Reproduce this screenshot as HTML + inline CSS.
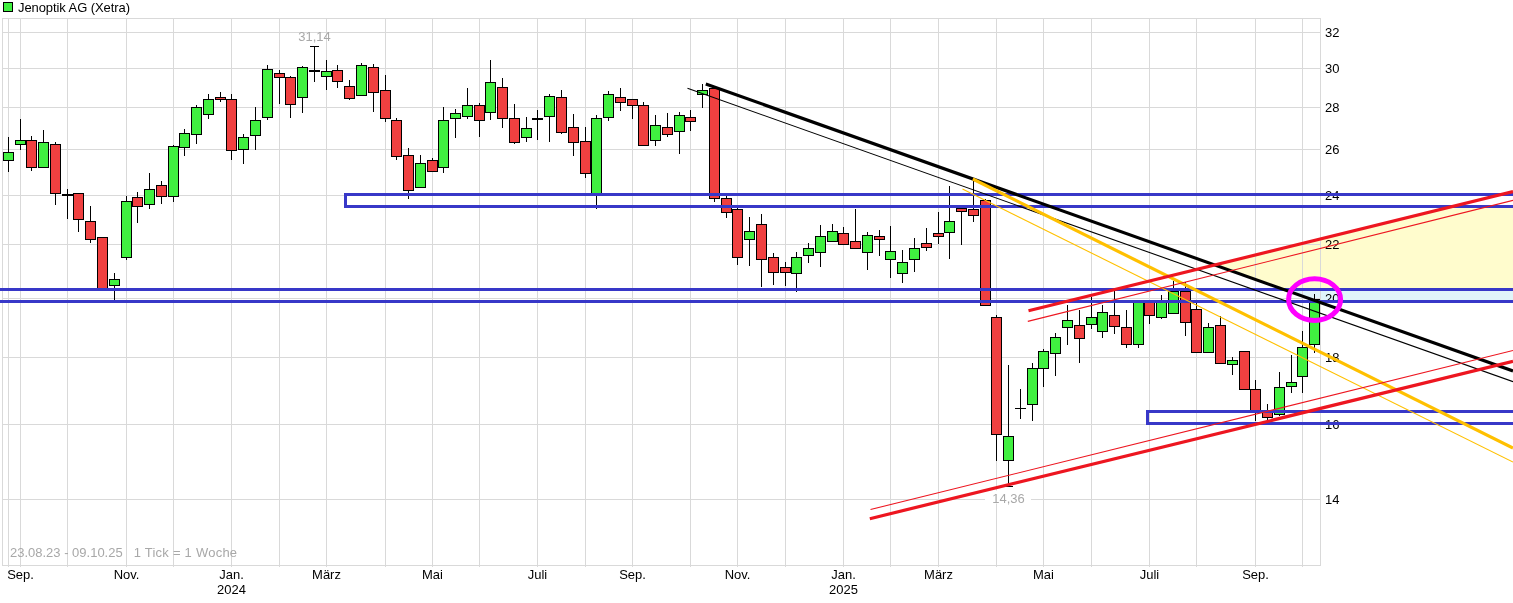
<!DOCTYPE html>
<html lang="de"><head><meta charset="utf-8"><title>Jenoptik AG (Xetra)</title>
<style>html,body{margin:0;padding:0;background:#fff}svg{display:block}</style></head>
<body><svg width="1513" height="603" viewBox="0 0 1513 603" font-family="Liberation Sans, Arial, sans-serif" font-size="13">
<rect width="1513" height="603" fill="#fff"/>
<polygon points="1214.8,265.0 1452.4,206.5 1513,206.5 1513,289.5 1283.8,289.5" fill="#fffccd"/>
<polygon points="1283.8,289.5 1513,289.5 1513,301.5 1317.5,301.5" fill="#e1f5fa"/>
<g shape-rendering="crispEdges" stroke="#d9d9d9" stroke-width="1" fill="none">
<line x1="2" y1="32.5" x2="1321" y2="32.5"/>
<line x1="2" y1="68.5" x2="1321" y2="68.5"/>
<line x1="2" y1="107.5" x2="1321" y2="107.5"/>
<line x1="2" y1="149.5" x2="1321" y2="149.5"/>
<line x1="2" y1="195.5" x2="1321" y2="195.5"/>
<line x1="2" y1="244.5" x2="1321" y2="244.5"/>
<line x1="2" y1="298.5" x2="1321" y2="298.5"/>
<line x1="2" y1="357.5" x2="1321" y2="357.5"/>
<line x1="2" y1="424.5" x2="1321" y2="424.5"/>
<line x1="2" y1="499.5" x2="1321" y2="499.5"/>
<line x1="8.5" y1="18" x2="8.5" y2="567"/>
<line x1="20.5" y1="18" x2="20.5" y2="567"/>
<line x1="67.5" y1="18" x2="67.5" y2="567"/>
<line x1="126.5" y1="18" x2="126.5" y2="567"/>
<line x1="173.5" y1="18" x2="173.5" y2="567"/>
<line x1="231.5" y1="18" x2="231.5" y2="567"/>
<line x1="279.5" y1="18" x2="279.5" y2="567"/>
<line x1="326.5" y1="18" x2="326.5" y2="567"/>
<line x1="385.5" y1="18" x2="385.5" y2="567"/>
<line x1="432.5" y1="18" x2="432.5" y2="567"/>
<line x1="479.5" y1="18" x2="479.5" y2="567"/>
<line x1="537.5" y1="18" x2="537.5" y2="567"/>
<line x1="585.5" y1="18" x2="585.5" y2="567"/>
<line x1="632.5" y1="18" x2="632.5" y2="567"/>
<line x1="690.5" y1="18" x2="690.5" y2="567"/>
<line x1="737.5" y1="18" x2="737.5" y2="567"/>
<line x1="785.5" y1="18" x2="785.5" y2="567"/>
<line x1="843.5" y1="18" x2="843.5" y2="567"/>
<line x1="890.5" y1="18" x2="890.5" y2="567"/>
<line x1="938.5" y1="18" x2="938.5" y2="567"/>
<line x1="996.5" y1="18" x2="996.5" y2="567"/>
<line x1="1043.5" y1="18" x2="1043.5" y2="567"/>
<line x1="1091.5" y1="18" x2="1091.5" y2="567"/>
<line x1="1149.5" y1="18" x2="1149.5" y2="567"/>
<line x1="1196.5" y1="18" x2="1196.5" y2="567"/>
<line x1="1255.5" y1="18" x2="1255.5" y2="567"/>
<line x1="1302.5" y1="18" x2="1302.5" y2="567"/>
<rect x="2.5" y="18.5" width="1318" height="547"/>
</g>
<text transform="translate(1325,37.2) scale(1,1.03)" text-anchor="start" fill="#000" >32</text>
<text transform="translate(1325,73.2) scale(1,1.03)" text-anchor="start" fill="#000" >30</text>
<text transform="translate(1325,112.2) scale(1,1.03)" text-anchor="start" fill="#000" >28</text>
<text transform="translate(1325,154.2) scale(1,1.03)" text-anchor="start" fill="#000" >26</text>
<text transform="translate(1325,200.2) scale(1,1.03)" text-anchor="start" fill="#000" >24</text>
<text transform="translate(1325,249.2) scale(1,1.03)" text-anchor="start" fill="#000" >22</text>
<text transform="translate(1325,303.2) scale(1,1.03)" text-anchor="start" fill="#000" >20</text>
<text transform="translate(1325,362.2) scale(1,1.03)" text-anchor="start" fill="#000" >18</text>
<text transform="translate(1325,429.2) scale(1,1.03)" text-anchor="start" fill="#000" >16</text>
<text transform="translate(1325,504.2) scale(1,1.03)" text-anchor="start" fill="#000" >14</text>
<text transform="translate(20.5,579) scale(1,1.03)" text-anchor="middle" fill="#000" >Sep.</text>
<text transform="translate(126.5,579) scale(1,1.03)" text-anchor="middle" fill="#000" >Nov.</text>
<text transform="translate(231.5,579) scale(1,1.03)" text-anchor="middle" fill="#000" >Jan.</text>
<text transform="translate(326.5,579) scale(1,1.03)" text-anchor="middle" fill="#000" >März</text>
<text transform="translate(432.5,579) scale(1,1.03)" text-anchor="middle" fill="#000" >Mai</text>
<text transform="translate(537.5,579) scale(1,1.03)" text-anchor="middle" fill="#000" >Juli</text>
<text transform="translate(632.5,579) scale(1,1.03)" text-anchor="middle" fill="#000" >Sep.</text>
<text transform="translate(737.5,579) scale(1,1.03)" text-anchor="middle" fill="#000" >Nov.</text>
<text transform="translate(843.5,579) scale(1,1.03)" text-anchor="middle" fill="#000" >Jan.</text>
<text transform="translate(938.5,579) scale(1,1.03)" text-anchor="middle" fill="#000" >März</text>
<text transform="translate(1043.5,579) scale(1,1.03)" text-anchor="middle" fill="#000" >Mai</text>
<text transform="translate(1149.5,579) scale(1,1.03)" text-anchor="middle" fill="#000" >Juli</text>
<text transform="translate(1255.5,579) scale(1,1.03)" text-anchor="middle" fill="#000" >Sep.</text>
<text transform="translate(231.5,594) scale(1,1.03)" text-anchor="middle" fill="#000" >2024</text>
<text transform="translate(843.5,594) scale(1,1.03)" text-anchor="middle" fill="#000" >2025</text>
<text transform="translate(10,557) scale(1,1.03)" text-anchor="start" fill="#a8a8a8" >23.08.23 - 09.10.25</text>
<text transform="translate(133.7,557) scale(1,1.03)" text-anchor="start" fill="#a8a8a8" textLength="103.4" lengthAdjust="spacing">1 Tick = 1 Woche</text>
<rect x="3.5" y="2.5" width="9" height="9" fill="#40f040" stroke="#000" shape-rendering="crispEdges"/>
<text transform="translate(18,12) scale(1,1.03)" text-anchor="start" fill="#000" textLength="112" lengthAdjust="spacing">Jenoptik AG (Xetra)</text>
<text transform="translate(314.5,41) scale(1,1.03)" text-anchor="middle" fill="#a8a8a8" >31,14</text>
<rect x="985" y="490.5" width="46" height="13" fill="#fff"/>
<text transform="translate(1008.5,503) scale(1,1.03)" text-anchor="middle" fill="#a8a8a8" >14,36</text>
<g shape-rendering="crispEdges">
<rect x="8.0" y="137" width="1" height="35" fill="#000"/>
<rect x="3.0" y="152" width="11" height="9" fill="#000"/>
<rect x="4.0" y="153" width="9" height="7" fill="#40f040"/>
<rect x="20.0" y="119" width="1" height="31" fill="#000"/>
<rect x="15.0" y="140" width="11" height="5" fill="#000"/>
<rect x="16.0" y="141" width="9" height="3" fill="#40f040"/>
<rect x="31.0" y="136" width="1" height="35" fill="#000"/>
<rect x="26.0" y="140" width="11" height="28" fill="#000"/>
<rect x="27.0" y="141" width="9" height="26" fill="#f04040"/>
<rect x="43.0" y="130" width="1" height="38" fill="#000"/>
<rect x="38.0" y="142" width="11" height="26" fill="#000"/>
<rect x="39.0" y="143" width="9" height="24" fill="#40f040"/>
<rect x="55.0" y="142" width="1" height="63" fill="#000"/>
<rect x="50.0" y="144" width="11" height="50" fill="#000"/>
<rect x="51.0" y="145" width="9" height="48" fill="#f04040"/>
<rect x="67.0" y="189" width="1" height="30" fill="#000"/>
<rect x="62.0" y="194" width="11" height="2" fill="#000"/>
<rect x="78.0" y="193" width="1" height="39" fill="#000"/>
<rect x="73.0" y="193" width="11" height="27" fill="#000"/>
<rect x="74.0" y="194" width="9" height="25" fill="#f04040"/>
<rect x="90.0" y="206" width="1" height="37" fill="#000"/>
<rect x="85.0" y="221" width="11" height="19" fill="#000"/>
<rect x="86.0" y="222" width="9" height="17" fill="#f04040"/>
<rect x="102.0" y="237" width="1" height="53" fill="#000"/>
<rect x="97.0" y="237" width="11" height="53" fill="#000"/>
<rect x="98.0" y="238" width="9" height="51" fill="#f04040"/>
<rect x="114.0" y="273" width="1" height="27" fill="#000"/>
<rect x="109.0" y="279" width="11" height="7" fill="#000"/>
<rect x="110.0" y="280" width="9" height="5" fill="#40f040"/>
<rect x="126.0" y="196" width="1" height="64" fill="#000"/>
<rect x="121.0" y="201" width="11" height="57" fill="#000"/>
<rect x="122.0" y="202" width="9" height="55" fill="#40f040"/>
<rect x="137.0" y="192" width="1" height="31" fill="#000"/>
<rect x="132.0" y="197" width="11" height="10" fill="#000"/>
<rect x="133.0" y="198" width="9" height="8" fill="#f04040"/>
<rect x="149.0" y="173" width="1" height="36" fill="#000"/>
<rect x="144.0" y="189" width="11" height="16" fill="#000"/>
<rect x="145.0" y="190" width="9" height="14" fill="#40f040"/>
<rect x="161.0" y="181" width="1" height="23" fill="#000"/>
<rect x="156.0" y="185" width="11" height="12" fill="#000"/>
<rect x="157.0" y="186" width="9" height="10" fill="#f04040"/>
<rect x="173.0" y="145" width="1" height="57" fill="#000"/>
<rect x="168.0" y="146" width="11" height="51" fill="#000"/>
<rect x="169.0" y="147" width="9" height="49" fill="#40f040"/>
<rect x="184.0" y="129" width="1" height="27" fill="#000"/>
<rect x="179.0" y="133" width="11" height="15" fill="#000"/>
<rect x="180.0" y="134" width="9" height="13" fill="#40f040"/>
<rect x="196.0" y="105" width="1" height="39" fill="#000"/>
<rect x="191.0" y="107" width="11" height="28" fill="#000"/>
<rect x="192.0" y="108" width="9" height="26" fill="#40f040"/>
<rect x="208.0" y="94" width="1" height="25" fill="#000"/>
<rect x="203.0" y="99" width="11" height="16" fill="#000"/>
<rect x="204.0" y="100" width="9" height="14" fill="#40f040"/>
<rect x="220.0" y="92" width="1" height="10" fill="#000"/>
<rect x="215.0" y="97" width="11" height="3" fill="#000"/>
<rect x="216.0" y="98" width="9" height="1" fill="#f04040"/>
<rect x="231.0" y="94" width="1" height="66" fill="#000"/>
<rect x="226.0" y="99" width="11" height="52" fill="#000"/>
<rect x="227.0" y="100" width="9" height="50" fill="#f04040"/>
<rect x="243.0" y="134" width="1" height="30" fill="#000"/>
<rect x="238.0" y="137" width="11" height="13" fill="#000"/>
<rect x="239.0" y="138" width="9" height="11" fill="#40f040"/>
<rect x="255.0" y="107" width="1" height="43" fill="#000"/>
<rect x="250.0" y="120" width="11" height="16" fill="#000"/>
<rect x="251.0" y="121" width="9" height="14" fill="#40f040"/>
<rect x="267.0" y="65" width="1" height="55" fill="#000"/>
<rect x="262.0" y="69" width="11" height="49" fill="#000"/>
<rect x="263.0" y="70" width="9" height="47" fill="#40f040"/>
<rect x="279.0" y="70" width="1" height="34" fill="#000"/>
<rect x="274.0" y="73" width="11" height="5" fill="#000"/>
<rect x="275.0" y="74" width="9" height="3" fill="#f04040"/>
<rect x="290.0" y="76" width="1" height="42" fill="#000"/>
<rect x="285.0" y="77" width="11" height="28" fill="#000"/>
<rect x="286.0" y="78" width="9" height="26" fill="#f04040"/>
<rect x="302.0" y="66" width="1" height="47" fill="#000"/>
<rect x="297.0" y="67" width="11" height="31" fill="#000"/>
<rect x="298.0" y="68" width="9" height="29" fill="#40f040"/>
<rect x="314.0" y="46" width="1" height="36" fill="#000"/>
<rect x="309.0" y="70" width="11" height="2" fill="#000"/>
<rect x="326.0" y="60" width="1" height="30" fill="#000"/>
<rect x="321.0" y="71" width="11" height="6" fill="#000"/>
<rect x="322.0" y="72" width="9" height="4" fill="#40f040"/>
<rect x="337.0" y="65" width="1" height="23" fill="#000"/>
<rect x="332.0" y="70" width="11" height="12" fill="#000"/>
<rect x="333.0" y="71" width="9" height="10" fill="#f04040"/>
<rect x="349.0" y="80" width="1" height="20" fill="#000"/>
<rect x="344.0" y="86" width="11" height="13" fill="#000"/>
<rect x="345.0" y="87" width="9" height="11" fill="#f04040"/>
<rect x="361.0" y="63" width="1" height="32" fill="#000"/>
<rect x="356.0" y="65" width="11" height="31" fill="#000"/>
<rect x="357.0" y="66" width="9" height="29" fill="#40f040"/>
<rect x="373.0" y="64" width="1" height="48" fill="#000"/>
<rect x="368.0" y="67" width="11" height="26" fill="#000"/>
<rect x="369.0" y="68" width="9" height="24" fill="#f04040"/>
<rect x="385.0" y="75" width="1" height="47" fill="#000"/>
<rect x="380.0" y="90" width="11" height="29" fill="#000"/>
<rect x="381.0" y="91" width="9" height="27" fill="#f04040"/>
<rect x="396.0" y="118" width="1" height="42" fill="#000"/>
<rect x="391.0" y="120" width="11" height="37" fill="#000"/>
<rect x="392.0" y="121" width="9" height="35" fill="#f04040"/>
<rect x="408.0" y="148" width="1" height="51" fill="#000"/>
<rect x="403.0" y="155" width="11" height="36" fill="#000"/>
<rect x="404.0" y="156" width="9" height="34" fill="#f04040"/>
<rect x="420.0" y="155" width="1" height="32" fill="#000"/>
<rect x="415.0" y="163" width="11" height="25" fill="#000"/>
<rect x="416.0" y="164" width="9" height="23" fill="#40f040"/>
<rect x="432.0" y="158" width="1" height="13" fill="#000"/>
<rect x="427.0" y="160" width="11" height="12" fill="#000"/>
<rect x="428.0" y="161" width="9" height="10" fill="#f04040"/>
<rect x="443.0" y="107" width="1" height="66" fill="#000"/>
<rect x="438.0" y="120" width="11" height="48" fill="#000"/>
<rect x="439.0" y="121" width="9" height="46" fill="#40f040"/>
<rect x="455.0" y="109" width="1" height="29" fill="#000"/>
<rect x="450.0" y="113" width="11" height="6" fill="#000"/>
<rect x="451.0" y="114" width="9" height="4" fill="#40f040"/>
<rect x="467.0" y="88" width="1" height="31" fill="#000"/>
<rect x="462.0" y="105" width="11" height="12" fill="#000"/>
<rect x="463.0" y="106" width="9" height="10" fill="#40f040"/>
<rect x="479.0" y="103" width="1" height="34" fill="#000"/>
<rect x="474.0" y="105" width="11" height="16" fill="#000"/>
<rect x="475.0" y="106" width="9" height="14" fill="#f04040"/>
<rect x="490.0" y="60" width="1" height="60" fill="#000"/>
<rect x="485.0" y="82" width="11" height="31" fill="#000"/>
<rect x="486.0" y="83" width="9" height="29" fill="#40f040"/>
<rect x="502.0" y="78" width="1" height="50" fill="#000"/>
<rect x="497.0" y="87" width="11" height="32" fill="#000"/>
<rect x="498.0" y="88" width="9" height="30" fill="#f04040"/>
<rect x="514.0" y="104" width="1" height="40" fill="#000"/>
<rect x="509.0" y="118" width="11" height="25" fill="#000"/>
<rect x="510.0" y="119" width="9" height="23" fill="#f04040"/>
<rect x="526.0" y="117" width="1" height="25" fill="#000"/>
<rect x="521.0" y="128" width="11" height="10" fill="#000"/>
<rect x="522.0" y="129" width="9" height="8" fill="#40f040"/>
<rect x="537.0" y="110" width="1" height="30" fill="#000"/>
<rect x="532.0" y="118" width="11" height="2" fill="#000"/>
<rect x="549.0" y="94" width="1" height="48" fill="#000"/>
<rect x="544.0" y="96" width="11" height="21" fill="#000"/>
<rect x="545.0" y="97" width="9" height="19" fill="#40f040"/>
<rect x="561.0" y="90" width="1" height="44" fill="#000"/>
<rect x="556.0" y="97" width="11" height="36" fill="#000"/>
<rect x="557.0" y="98" width="9" height="34" fill="#f04040"/>
<rect x="573.0" y="114" width="1" height="42" fill="#000"/>
<rect x="568.0" y="127" width="11" height="16" fill="#000"/>
<rect x="569.0" y="128" width="9" height="14" fill="#f04040"/>
<rect x="585.0" y="127" width="1" height="51" fill="#000"/>
<rect x="580.0" y="141" width="11" height="33" fill="#000"/>
<rect x="581.0" y="142" width="9" height="31" fill="#f04040"/>
<rect x="596.0" y="115" width="1" height="94" fill="#000"/>
<rect x="591.0" y="118" width="11" height="77" fill="#000"/>
<rect x="592.0" y="119" width="9" height="75" fill="#40f040"/>
<rect x="608.0" y="91" width="1" height="30" fill="#000"/>
<rect x="603.0" y="94" width="11" height="24" fill="#000"/>
<rect x="604.0" y="95" width="9" height="22" fill="#40f040"/>
<rect x="620.0" y="88" width="1" height="23" fill="#000"/>
<rect x="615.0" y="97" width="11" height="6" fill="#000"/>
<rect x="616.0" y="98" width="9" height="4" fill="#f04040"/>
<rect x="632.0" y="99" width="1" height="20" fill="#000"/>
<rect x="627.0" y="99" width="11" height="7" fill="#000"/>
<rect x="628.0" y="100" width="9" height="5" fill="#f04040"/>
<rect x="643.0" y="102" width="1" height="44" fill="#000"/>
<rect x="638.0" y="105" width="11" height="41" fill="#000"/>
<rect x="639.0" y="106" width="9" height="39" fill="#f04040"/>
<rect x="655.0" y="115" width="1" height="31" fill="#000"/>
<rect x="650.0" y="125" width="11" height="16" fill="#000"/>
<rect x="651.0" y="126" width="9" height="14" fill="#40f040"/>
<rect x="667.0" y="113" width="1" height="24" fill="#000"/>
<rect x="662.0" y="127" width="11" height="8" fill="#000"/>
<rect x="663.0" y="128" width="9" height="6" fill="#f04040"/>
<rect x="679.0" y="112" width="1" height="42" fill="#000"/>
<rect x="674.0" y="115" width="11" height="17" fill="#000"/>
<rect x="675.0" y="116" width="9" height="15" fill="#40f040"/>
<rect x="690.0" y="110" width="1" height="21" fill="#000"/>
<rect x="685.0" y="117" width="11" height="5" fill="#000"/>
<rect x="686.0" y="118" width="9" height="3" fill="#f04040"/>
<rect x="702.0" y="84" width="1" height="24" fill="#000"/>
<rect x="697.0" y="90" width="11" height="5" fill="#000"/>
<rect x="698.0" y="91" width="9" height="3" fill="#40f040"/>
<rect x="714.0" y="88" width="1" height="114" fill="#000"/>
<rect x="709.0" y="88" width="11" height="111" fill="#000"/>
<rect x="710.0" y="89" width="9" height="109" fill="#f04040"/>
<rect x="726.0" y="196" width="1" height="22" fill="#000"/>
<rect x="721.0" y="198" width="11" height="15" fill="#000"/>
<rect x="722.0" y="199" width="9" height="13" fill="#f04040"/>
<rect x="737.0" y="208" width="1" height="57" fill="#000"/>
<rect x="732.0" y="209" width="11" height="49" fill="#000"/>
<rect x="733.0" y="210" width="9" height="47" fill="#f04040"/>
<rect x="749.0" y="217" width="1" height="49" fill="#000"/>
<rect x="744.0" y="231" width="11" height="9" fill="#000"/>
<rect x="745.0" y="232" width="9" height="7" fill="#40f040"/>
<rect x="761.0" y="214" width="1" height="73" fill="#000"/>
<rect x="756.0" y="224" width="11" height="36" fill="#000"/>
<rect x="757.0" y="225" width="9" height="34" fill="#f04040"/>
<rect x="773.0" y="253" width="1" height="32" fill="#000"/>
<rect x="768.0" y="257" width="11" height="16" fill="#000"/>
<rect x="769.0" y="258" width="9" height="14" fill="#f04040"/>
<rect x="785.0" y="262" width="1" height="24" fill="#000"/>
<rect x="780.0" y="267" width="11" height="6" fill="#000"/>
<rect x="781.0" y="268" width="9" height="4" fill="#f04040"/>
<rect x="796.0" y="252" width="1" height="40" fill="#000"/>
<rect x="791.0" y="257" width="11" height="17" fill="#000"/>
<rect x="792.0" y="258" width="9" height="15" fill="#40f040"/>
<rect x="808.0" y="243" width="1" height="20" fill="#000"/>
<rect x="803.0" y="248" width="11" height="8" fill="#000"/>
<rect x="804.0" y="249" width="9" height="6" fill="#40f040"/>
<rect x="820.0" y="225" width="1" height="42" fill="#000"/>
<rect x="815.0" y="236" width="11" height="17" fill="#000"/>
<rect x="816.0" y="237" width="9" height="15" fill="#40f040"/>
<rect x="832.0" y="224" width="1" height="17" fill="#000"/>
<rect x="827.0" y="231" width="11" height="11" fill="#000"/>
<rect x="828.0" y="232" width="9" height="9" fill="#40f040"/>
<rect x="843.0" y="227" width="1" height="18" fill="#000"/>
<rect x="838.0" y="233" width="11" height="12" fill="#000"/>
<rect x="839.0" y="234" width="9" height="10" fill="#f04040"/>
<rect x="855.0" y="209" width="1" height="39" fill="#000"/>
<rect x="850.0" y="241" width="11" height="8" fill="#000"/>
<rect x="851.0" y="242" width="9" height="6" fill="#f04040"/>
<rect x="867.0" y="232" width="1" height="38" fill="#000"/>
<rect x="862.0" y="235" width="11" height="18" fill="#000"/>
<rect x="863.0" y="236" width="9" height="16" fill="#40f040"/>
<rect x="879.0" y="230" width="1" height="26" fill="#000"/>
<rect x="874.0" y="236" width="11" height="4" fill="#000"/>
<rect x="875.0" y="237" width="9" height="2" fill="#f04040"/>
<rect x="890.0" y="226" width="1" height="52" fill="#000"/>
<rect x="885.0" y="251" width="11" height="9" fill="#000"/>
<rect x="886.0" y="252" width="9" height="7" fill="#40f040"/>
<rect x="902.0" y="250" width="1" height="33" fill="#000"/>
<rect x="897.0" y="262" width="11" height="12" fill="#000"/>
<rect x="898.0" y="263" width="9" height="10" fill="#40f040"/>
<rect x="914.0" y="238" width="1" height="34" fill="#000"/>
<rect x="909.0" y="248" width="11" height="12" fill="#000"/>
<rect x="910.0" y="249" width="9" height="10" fill="#40f040"/>
<rect x="926.0" y="228" width="1" height="23" fill="#000"/>
<rect x="921.0" y="243" width="11" height="5" fill="#000"/>
<rect x="922.0" y="244" width="9" height="3" fill="#f04040"/>
<rect x="938.0" y="212" width="1" height="32" fill="#000"/>
<rect x="933.0" y="233" width="11" height="4" fill="#000"/>
<rect x="934.0" y="234" width="9" height="2" fill="#f04040"/>
<rect x="949.0" y="186" width="1" height="73" fill="#000"/>
<rect x="944.0" y="221" width="11" height="12" fill="#000"/>
<rect x="945.0" y="222" width="9" height="10" fill="#40f040"/>
<rect x="961.0" y="208" width="1" height="37" fill="#000"/>
<rect x="956.0" y="208" width="11" height="4" fill="#000"/>
<rect x="957.0" y="209" width="9" height="2" fill="#f04040"/>
<rect x="973.0" y="180" width="1" height="42" fill="#000"/>
<rect x="968.0" y="209" width="11" height="7" fill="#000"/>
<rect x="969.0" y="210" width="9" height="5" fill="#f04040"/>
<rect x="985.0" y="199" width="1" height="106" fill="#000"/>
<rect x="980.0" y="200" width="11" height="106" fill="#000"/>
<rect x="981.0" y="201" width="9" height="104" fill="#f04040"/>
<rect x="996.0" y="315" width="1" height="146" fill="#000"/>
<rect x="991.0" y="317" width="11" height="118" fill="#000"/>
<rect x="992.0" y="318" width="9" height="116" fill="#f04040"/>
<rect x="1008.0" y="365" width="1" height="121" fill="#000"/>
<rect x="1003.0" y="436" width="11" height="25" fill="#000"/>
<rect x="1004.0" y="437" width="9" height="23" fill="#40f040"/>
<rect x="1020.0" y="389" width="1" height="30" fill="#000"/>
<rect x="1015.0" y="408" width="11" height="1" fill="#000"/>
<rect x="1032.0" y="363" width="1" height="58" fill="#000"/>
<rect x="1027.0" y="368" width="11" height="37" fill="#000"/>
<rect x="1028.0" y="369" width="9" height="35" fill="#40f040"/>
<rect x="1043.0" y="349" width="1" height="38" fill="#000"/>
<rect x="1038.0" y="351" width="11" height="18" fill="#000"/>
<rect x="1039.0" y="352" width="9" height="16" fill="#40f040"/>
<rect x="1055.0" y="333" width="1" height="43" fill="#000"/>
<rect x="1050.0" y="337" width="11" height="17" fill="#000"/>
<rect x="1051.0" y="338" width="9" height="15" fill="#40f040"/>
<rect x="1067.0" y="305" width="1" height="40" fill="#000"/>
<rect x="1062.0" y="320" width="11" height="8" fill="#000"/>
<rect x="1063.0" y="321" width="9" height="6" fill="#40f040"/>
<rect x="1079.0" y="310" width="1" height="53" fill="#000"/>
<rect x="1074.0" y="325" width="11" height="14" fill="#000"/>
<rect x="1075.0" y="326" width="9" height="12" fill="#f04040"/>
<rect x="1091.0" y="297" width="1" height="32" fill="#000"/>
<rect x="1086.0" y="317" width="11" height="8" fill="#000"/>
<rect x="1087.0" y="318" width="9" height="6" fill="#40f040"/>
<rect x="1102.0" y="305" width="1" height="33" fill="#000"/>
<rect x="1097.0" y="312" width="11" height="20" fill="#000"/>
<rect x="1098.0" y="313" width="9" height="18" fill="#40f040"/>
<rect x="1114.0" y="291" width="1" height="43" fill="#000"/>
<rect x="1109.0" y="315" width="11" height="12" fill="#000"/>
<rect x="1110.0" y="316" width="9" height="10" fill="#f04040"/>
<rect x="1126.0" y="310" width="1" height="38" fill="#000"/>
<rect x="1121.0" y="327" width="11" height="18" fill="#000"/>
<rect x="1122.0" y="328" width="9" height="16" fill="#f04040"/>
<rect x="1138.0" y="302" width="1" height="46" fill="#000"/>
<rect x="1133.0" y="302" width="11" height="43" fill="#000"/>
<rect x="1134.0" y="303" width="9" height="41" fill="#40f040"/>
<rect x="1149.0" y="302" width="1" height="22" fill="#000"/>
<rect x="1144.0" y="302" width="11" height="14" fill="#000"/>
<rect x="1145.0" y="303" width="9" height="12" fill="#f04040"/>
<rect x="1161.0" y="295" width="1" height="24" fill="#000"/>
<rect x="1156.0" y="302" width="11" height="16" fill="#000"/>
<rect x="1157.0" y="303" width="9" height="14" fill="#40f040"/>
<rect x="1173.0" y="281" width="1" height="32" fill="#000"/>
<rect x="1168.0" y="291" width="11" height="23" fill="#000"/>
<rect x="1169.0" y="292" width="9" height="21" fill="#40f040"/>
<rect x="1185.0" y="282" width="1" height="54" fill="#000"/>
<rect x="1180.0" y="291" width="11" height="32" fill="#000"/>
<rect x="1181.0" y="292" width="9" height="30" fill="#f04040"/>
<rect x="1196.0" y="303" width="1" height="49" fill="#000"/>
<rect x="1191.0" y="309" width="11" height="44" fill="#000"/>
<rect x="1192.0" y="310" width="9" height="42" fill="#f04040"/>
<rect x="1208.0" y="323" width="1" height="29" fill="#000"/>
<rect x="1203.0" y="327" width="11" height="26" fill="#000"/>
<rect x="1204.0" y="328" width="9" height="24" fill="#40f040"/>
<rect x="1220.0" y="316" width="1" height="47" fill="#000"/>
<rect x="1215.0" y="325" width="11" height="39" fill="#000"/>
<rect x="1216.0" y="326" width="9" height="37" fill="#f04040"/>
<rect x="1232.0" y="357" width="1" height="18" fill="#000"/>
<rect x="1227.0" y="360" width="11" height="5" fill="#000"/>
<rect x="1228.0" y="361" width="9" height="3" fill="#40f040"/>
<rect x="1244.0" y="351" width="1" height="38" fill="#000"/>
<rect x="1239.0" y="351" width="11" height="39" fill="#000"/>
<rect x="1240.0" y="352" width="9" height="37" fill="#f04040"/>
<rect x="1255.0" y="380" width="1" height="41" fill="#000"/>
<rect x="1250.0" y="389" width="11" height="23" fill="#000"/>
<rect x="1251.0" y="390" width="9" height="21" fill="#f04040"/>
<rect x="1267.0" y="404" width="1" height="16" fill="#000"/>
<rect x="1262.0" y="410" width="11" height="8" fill="#000"/>
<rect x="1263.0" y="411" width="9" height="6" fill="#f04040"/>
<rect x="1279.0" y="372" width="1" height="44" fill="#000"/>
<rect x="1274.0" y="387" width="11" height="28" fill="#000"/>
<rect x="1275.0" y="388" width="9" height="26" fill="#40f040"/>
<rect x="1291.0" y="355" width="1" height="38" fill="#000"/>
<rect x="1286.0" y="382" width="11" height="5" fill="#000"/>
<rect x="1287.0" y="383" width="9" height="3" fill="#40f040"/>
<rect x="1302.0" y="331" width="1" height="62" fill="#000"/>
<rect x="1297.0" y="347" width="11" height="30" fill="#000"/>
<rect x="1298.0" y="348" width="9" height="28" fill="#40f040"/>
<rect x="1314.0" y="294" width="1" height="59" fill="#000"/>
<rect x="1309.0" y="299" width="11" height="46" fill="#000"/>
<rect x="1310.0" y="300" width="9" height="44" fill="#40f040"/>
<rect x="310.0" y="46" width="9" height="1" fill="#000"/>
<rect x="1004.0" y="486" width="9" height="1" fill="#000"/>
</g>
<g fill="none" stroke="#3838c8" stroke-width="3">
<path d="M1530,194.5H345.5V206.5H1530"/>
<path d="M-10,289.5H1530M-10,301.5H1530"/>
<path d="M1530,411.5H1147.5V423.5H1530"/>
</g>
<line x1="687.5" y1="88.3" x2="1513" y2="381.7" stroke="#000" stroke-width="1.1"/>
<line x1="705.8" y1="84" x2="1513" y2="371" stroke="#000" stroke-width="3.1"/>
<line x1="962.5" y1="189.1" x2="1513" y2="462" stroke="#ffc000" stroke-width="1.1"/>
<line x1="972.8" y1="179" x2="1513" y2="448.1" stroke="#ffc000" stroke-width="3.2"/>
<line x1="1027.8" y1="321.4" x2="1513" y2="200.4" stroke="#ed1620" stroke-width="1.1"/>
<line x1="1028.5" y1="310.8" x2="1513" y2="191.6" stroke="#ed1620" stroke-width="3.2"/>
<line x1="870.5" y1="509.5" x2="1513" y2="350.5" stroke="#ed1620" stroke-width="1.1"/>
<line x1="869.8" y1="518.7" x2="1513" y2="361.3" stroke="#ed1620" stroke-width="3.2"/>
<ellipse cx="1314.6" cy="299.6" rx="26" ry="20.8" fill="none" stroke="#ff00ff" stroke-width="5"/>
</svg></body></html>
